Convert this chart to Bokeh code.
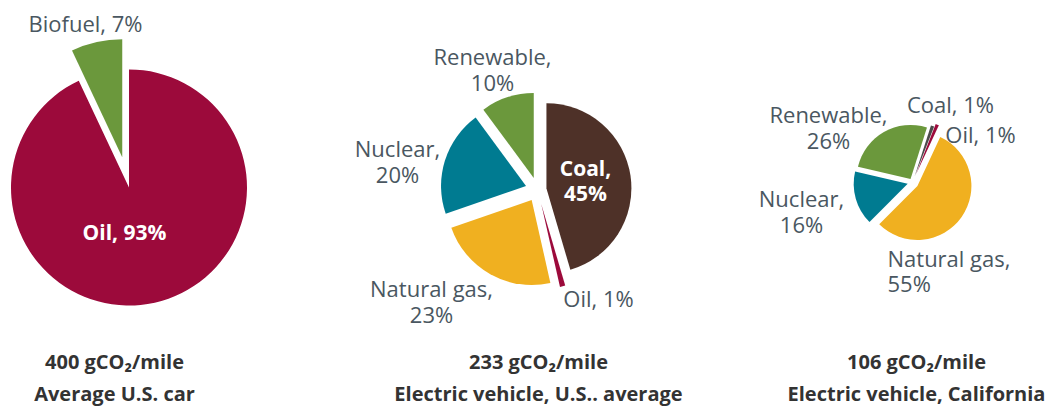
import math
from bokeh.plotting import figure
from bokeh.models import Range1d, ColumnDataSource
from bokeh.core.properties import value
from bokeh.embed import file_html
from bokeh.resources import INLINE

# ---------------- data ----------------
car_sources = ["Oil", "Biofuel"]
car_shares = [93, 7]

us_sources = ["Coal", "Oil", "Natural gas", "Nuclear", "Renewable"]
us_shares = [45, 1, 23, 20, 10]

ca_sources = ["Natural gas", "Nuclear", "Renewable", "Coal", "Oil"]
ca_shares = [55, 16, 26, 1, 1]

emissions = [400, 233, 106]
captions = ["Average U.S. car", "Electric vehicle, U.S.. average", "Electric vehicle, California"]

# ---------------- style ----------------
COLORS = {
    "Oil": "#9c0a3b",
    "Biofuel": "#6b983c",
    "Renewable": "#6b983c",
    "Coal": "#4e3128",
    "Natural gas": "#f0b020",
    "Nuclear": "#007b91",
}
CA_COAL = "#4b4b4b"
LABEL_COLOR = "#4a5761"
CAPTION_COLOR = "#333333"
FONT = "Open Sans"

W, H = 1049, 407
p = figure(width=W, height=H, output_backend="svg", toolbar_location=None,
           x_range=Range1d(0, W), y_range=Range1d(-H, 0),
           min_border=0)
p.axis.visible = False
p.grid.visible = False
p.outline_line_color = None
p.background_fill_color = "white"
p.border_fill_color = "white"


def add_pie(names, shares, colors, cx, cy, r, start_deg, explode):
    total = float(sum(shares))
    a = start_deg
    data = dict(x=[], y=[], s=[], e=[], c=[])
    for n, s, c, d in zip(names, shares, colors, explode):
        span = 360.0 * s / total
        mid = math.radians(a + span / 2)
        sx = cx + d * math.sin(mid)
        sy = cy - d * math.cos(mid)
        data["x"].append(sx)
        data["y"].append(-sy)
        data["s"].append(math.pi / 2 - math.radians(a))
        data["e"].append(math.pi / 2 - math.radians(a + span))
        data["c"].append(c)
        a += span
    p.wedge(x="x", y="y", radius=r, start_angle="s", end_angle="e",
            direction="clock", fill_color="c", line_color=None,
            source=ColumnDataSource(data))


def label(x, y, lines, color=LABEL_COLOR, align="center", size="22px", style="normal", gap=26):
    n = len(lines)
    ys = [-(y + (i - (n - 1) / 2) * gap) for i in range(n)]
    p.text(x=[x] * n, y=ys, text=lines, text_align=align, text_baseline="middle",
           text_font=value(FONT), text_font_size=size, text_color=color,
           text_font_style=style)


# Pie 1: average U.S. car
add_pie(car_sources, car_shares, [COLORS[n] for n in car_sources],
        128.5, 187, 118, 0, [0, 31])
# Pie 2: EV U.S. average
add_pie(us_sources, us_shares, [COLORS[n] for n in us_sources],
        537, 189, 85, 0, [9, 15, 12, 12, 12])
# Pie 3: EV California
ca_colors = [CA_COAL if n == "Coal" else COLORS[n] for n in ca_sources]
add_pie(ca_sources, ca_shares, ca_colors, 912, 182, 54, 25, [6, 5, 4, 6, 9])

# ---------------- labels ----------------
# pie 1
label(124, 231, [f"{car_sources[0]}, {car_shares[0]}%"], color="white", style="bold", size="21px")
label(85, 22, [f"{car_sources[1]}, {car_shares[1]}%"])
# pie 2
label(585, 180, [f"{us_sources[0]},", f"{us_shares[0]}%"], color="white", style="bold",
      size="21px", gap=25)
label(598, 297, [f"{us_sources[1]}, {us_shares[1]}%"])
label(431, 300, [f"{us_sources[2]},", f"{us_shares[2]}%"])
label(397, 160, [f"{us_sources[3]},", f"{us_shares[3]}%"])
label(492, 68, [f"{us_sources[4]},", f"{us_shares[4]}%"])
# pie 3
p.text(x=[887, 887], y=[-257, -282], text=[f"{ca_sources[0]},", f"{ca_shares[0]}%"],
       text_align="left", text_baseline="middle", text_font=value(FONT),
       text_font_size="22px", text_color=LABEL_COLOR)
label(801, 210, [f"{ca_sources[1]},", f"{ca_shares[1]}%"])
label(828, 126, [f"{ca_sources[2]},", f"{ca_shares[2]}%"])
label(950, 103, [f"{ca_sources[3]}, {ca_shares[3]}%"])
label(980, 133, [f"{ca_sources[4]}, {ca_shares[4]}%"])

# ---------------- captions ----------------
cap_x = [114, 538, 916]
for x, e, c in zip(cap_x, emissions, captions):
    label(x, 377, [f"{e} gCO\u2082/mile", c], color=CAPTION_COLOR, size="20px",
          style="bold", gap=32)

open("out.html", "w").write(file_html(p, INLINE))
